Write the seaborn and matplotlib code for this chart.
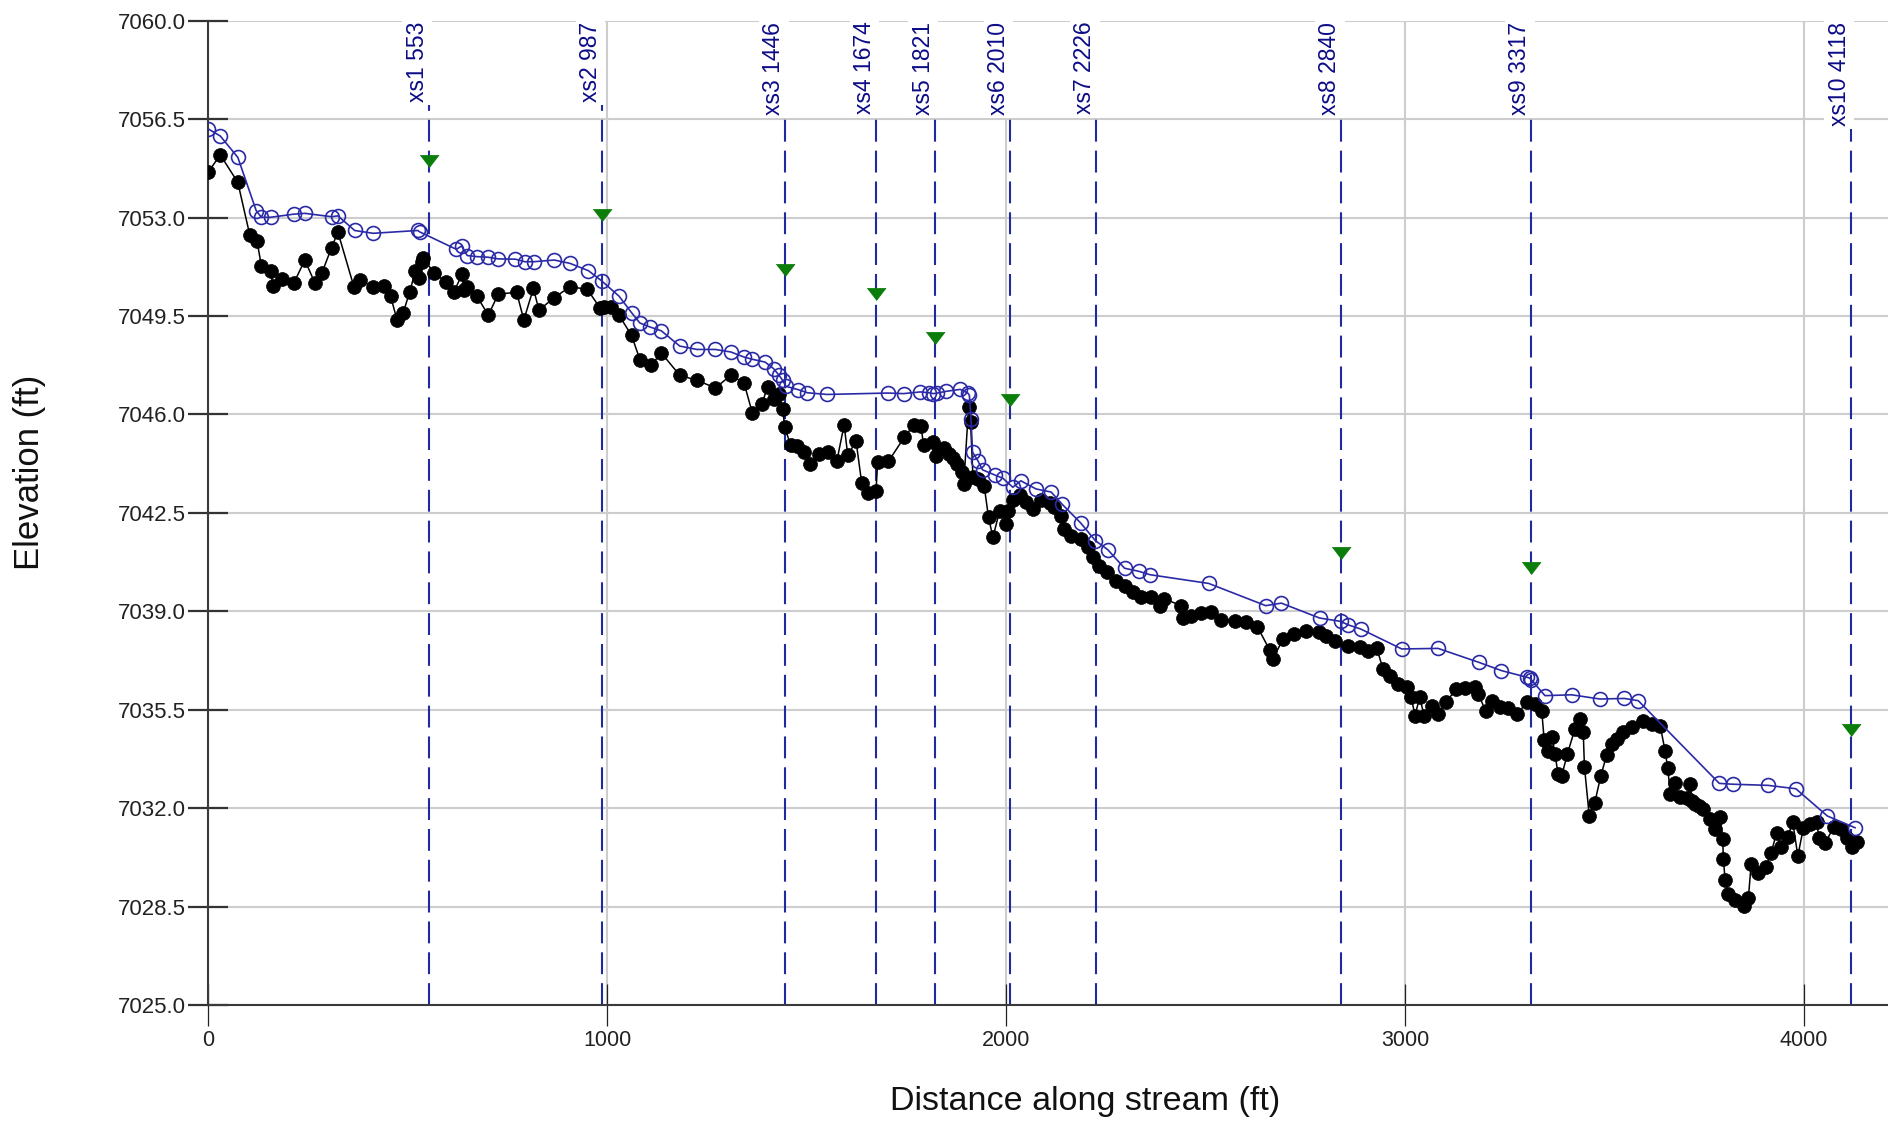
import matplotlib
matplotlib.use("Agg")
import matplotlib.pyplot as plt
import matplotlib.transforms as mtransforms
import seaborn as sns
import pandas as pd

# Channel bed profile (thalweg survey points)
bed_dist = [0, 30, 74, 104, 122, 133, 156, 162, 185, 214, 242, 267, 285, 309, 325,
            365, 380, 413, 440, 457, 473, 488, 505, 519, 528, 536, 539, 565, 595, 616,
            636, 641, 649, 673, 702, 727, 773, 791, 815, 829, 867, 907, 950, 982, 992,
            1009, 1030, 1061, 1082, 1109, 1136, 1182, 1226, 1271, 1310, 1343, 1364, 1388,
            1402, 1419, 1431, 1440, 1445, 1460, 1477, 1494, 1509, 1532, 1553, 1576, 1594,
            1603, 1624, 1638, 1653, 1674, 1678, 1705, 1745, 1768, 1787, 1793, 1816, 1824,
            1833, 1845, 1858, 1867, 1877, 1889, 1894, 1906, 1911, 1917, 1929, 1945, 1956,
            1967, 1984, 2000, 2004, 2018, 2034, 2050, 2067, 2088, 2109, 2121, 2138, 2146,
            2163, 2188, 2205, 2218, 2234, 2254, 2276, 2297, 2318, 2339, 2364, 2385, 2397,
            2439, 2443, 2464, 2488, 2513, 2540, 2573, 2602, 2630, 2661, 2669, 2694, 2722,
            2751, 2785, 2803, 2824, 2856, 2887, 2908, 2929, 2945, 2962, 2983, 3004, 3016,
            3025, 3037, 3048, 3067, 3083, 3102, 3129, 3150, 3175, 3184, 3202, 3217, 3238,
            3259, 3282, 3305, 3326, 3343, 3349, 3359, 3369, 3376, 3384, 3393, 3407, 3426,
            3440, 3447, 3450, 3462, 3476, 3491, 3506, 3518, 3531, 3547, 3568, 3598, 3619,
            3640, 3652, 3659, 3665, 3677, 3690, 3707, 3715, 3719, 3727, 3736, 3748, 3765,
            3778, 3790, 3797, 3798, 3803, 3811, 3828, 3849, 3861, 3868, 3885, 3905, 3918,
            3932, 3943, 3960, 3972, 3985, 3999, 4016, 4033, 4037, 4054, 4075, 4094, 4108,
            4121, 4133]
bed_elev = [7054.62, 7055.23, 7054.25, 7052.38, 7052.17, 7051.29, 7051.10, 7050.58,
            7050.80, 7050.66, 7051.49, 7050.68, 7051.04, 7051.93, 7052.48, 7050.54,
            7050.78, 7050.54, 7050.58, 7050.21, 7049.36, 7049.59, 7050.36, 7051.10,
            7050.84, 7051.43, 7051.57, 7051.04, 7050.72, 7050.36, 7050.98, 7050.42,
            7050.54, 7050.21, 7049.53, 7050.28, 7050.34, 7049.36, 7050.48, 7049.71,
            7050.15, 7050.54, 7050.45, 7049.79, 7049.82, 7049.82, 7049.52, 7048.81,
            7047.95, 7047.74, 7048.18, 7047.39, 7047.21, 7046.94, 7047.39, 7047.12,
            7046.05, 7046.38, 7046.97, 7046.56, 7046.74, 7046.20, 7045.55, 7044.90,
            7044.87, 7044.66, 7044.24, 7044.60, 7044.68, 7044.36, 7045.63, 7044.56,
            7045.04, 7043.57, 7043.20, 7043.29, 7044.30, 7044.33, 7045.19, 7045.61,
            7045.58, 7044.90, 7045.01, 7044.52, 7044.72, 7044.80, 7044.60, 7044.45,
            7044.25, 7043.94, 7043.53, 7046.26, 7045.73, 7043.77, 7043.71, 7043.47,
            7042.34, 7041.63, 7042.58, 7042.11, 7042.58, 7042.94, 7043.12, 7042.88,
            7042.64, 7042.94, 7042.84, 7042.72, 7042.40, 7041.93, 7041.69, 7041.57,
            7041.28, 7040.92, 7040.62, 7040.39, 7040.09, 7039.91, 7039.67, 7039.50,
            7039.50, 7039.20, 7039.44, 7039.20, 7038.76, 7038.84, 7038.93, 7038.96,
            7038.69, 7038.67, 7038.61, 7038.45, 7037.62, 7037.30, 7038.01, 7038.19,
            7038.31, 7038.27, 7038.13, 7037.93, 7037.78, 7037.72, 7037.60, 7037.70,
            7036.95, 7036.71, 7036.41, 7036.29, 7035.94, 7035.29, 7035.94, 7035.29,
            7035.64, 7035.35, 7035.76, 7036.24, 7036.27, 7036.32, 7036.06, 7035.46,
            7035.80, 7035.61, 7035.55, 7035.35, 7035.76, 7035.70, 7035.46, 7034.42,
            7034.04, 7034.54, 7033.92, 7033.21, 7033.15, 7033.92, 7034.81, 7035.17,
            7034.69, 7033.47, 7031.73, 7032.20, 7033.15, 7033.90, 7034.28, 7034.46,
            7034.69, 7034.90, 7035.11, 7034.99, 7034.93, 7034.04, 7033.41, 7032.52,
            7032.91, 7032.38, 7032.37, 7032.85, 7032.26, 7032.14, 7032.08, 7031.96,
            7031.60, 7031.25, 7031.68, 7030.89, 7030.18, 7029.43, 7028.93, 7028.72,
            7028.52, 7028.81, 7030.02, 7029.70, 7029.90, 7030.41, 7031.13, 7030.62,
            7030.97, 7031.52, 7030.30, 7031.31, 7031.42, 7031.52, 7030.95, 7030.77,
            7031.33, 7031.25, 7030.95, 7030.62, 7030.81]

# Water surface profile
ws_dist = [0, 30, 74, 120, 133, 156, 214, 242, 309, 325, 367, 413, 525, 530, 622, 635,
           649, 674, 701, 727, 770, 793, 816, 867, 907, 953, 986, 1030, 1061, 1082, 1107,
           1136, 1182, 1225, 1271, 1310, 1343, 1364, 1396, 1417, 1431, 1440, 1448, 1479,
           1502, 1551, 1703, 1743, 1785, 1808, 1818, 1828, 1849, 1885, 1904, 1908, 1912,
           1916, 1929, 1941, 1971, 1992, 2017, 2037, 2075, 2113, 2141, 2187, 2224, 2255,
           2297, 2333, 2361, 2508, 2651, 2690, 2786, 2839, 2857, 2889, 2992, 3083, 3186,
           3242, 3307, 3313, 3317, 3351, 3418, 3489, 3550, 3585, 3788, 3822, 3910, 3980,
           4059, 4129]
ws_elev = [7056.15, 7055.90, 7055.14, 7053.25, 7053.01, 7053.01, 7053.12, 7053.15,
           7053.03, 7053.06, 7052.54, 7052.44, 7052.54, 7052.49, 7051.87, 7051.99,
           7051.65, 7051.61, 7051.59, 7051.53, 7051.52, 7051.43, 7051.43, 7051.49,
           7051.37, 7051.11, 7050.75, 7050.20, 7049.62, 7049.25, 7049.11, 7048.97,
           7048.43, 7048.31, 7048.31, 7048.22, 7048.04, 7047.96, 7047.86, 7047.63,
           7047.39, 7047.21, 7047.00, 7046.88, 7046.77, 7046.71, 7046.76, 7046.74,
           7046.80, 7046.77, 7046.74, 7046.76, 7046.82, 7046.89, 7046.76, 7046.68,
           7045.85, 7044.66, 7044.36, 7044.03, 7043.85, 7043.73, 7043.41, 7043.64,
           7043.35, 7043.24, 7042.80, 7042.14, 7041.51, 7041.19, 7040.53, 7040.42,
           7040.30, 7039.99, 7039.20, 7039.29, 7038.76, 7038.64, 7038.52, 7038.37,
           7037.66, 7037.68, 7037.18, 7036.89, 7036.65, 7036.62, 7036.56, 7036.00,
           7036.03, 7035.88, 7035.90, 7035.82, 7032.88, 7032.85, 7032.81, 7032.69,
           7031.72, 7031.30]

# Cross sections: name, station and water level at the section
xs_names = ["xs1", "xs2", "xs3", "xs4", "xs5", "xs6", "xs7", "xs8", "xs9", "xs10"]
xs_station = [553, 987, 1446, 1674, 1821, 2010, 2226, 2840, 3317, 4118]
wl_station = [553, 987, 1446, 1674, 1821, 2010, 2840, 3317, 4118]
wl_elev = [7055.0, 7053.1, 7051.13, 7050.27, 7048.73, 7046.5, 7041.07, 7040.54, 7034.78]

y_ticks = [7025.0 + 3.5 * i for i in range(11)]
x_ticks = [0, 1000, 2000, 3000, 4000]

sns.set_style("white")
plt.rcParams["font.family"] = ["Liberation Sans", "DejaVu Sans"]

fig = plt.figure(figsize=(18.88, 11.25), dpi=100)
ax = fig.add_axes([0.11033, 0.10667, 0.88967, 0.87493])

navy_text = "#0c0c88"
navy_dash = "#1f2a9e"
ws_blue = "#2a2aa6"
green = "#0a7d0a"

# Cross-section markers
trans = mtransforms.blended_transform_factory(ax.transData, ax.transAxes)
for name, st in zip(xs_names, xs_station):
    ax.axvline(st, color=navy_dash, lw=1.5, dashes=(10.5, 4.3), zorder=2)
    ax.text(st, 0.999, f"{name} {st}", transform=trans, rotation=90,
            ha="right", va="top", color=navy_text, fontsize=16.5, zorder=6,
            bbox=dict(boxstyle="square,pad=0.15", fc="white", ec="none"))

bed = pd.DataFrame({"dist": bed_dist, "elev": bed_elev})
ws = pd.DataFrame({"dist": ws_dist, "elev": ws_elev})
wl = pd.DataFrame({"dist": wl_station, "elev": wl_elev})

sns.lineplot(data=bed, x="dist", y="elev", ax=ax, sort=False, estimator=None,
             color="black", lw=1.1, marker="o", markersize=10,
             markerfacecolor="black", markeredgecolor="black",
             markeredgewidth=0.5, zorder=4)
sns.lineplot(data=ws, x="dist", y="elev", ax=ax, sort=False, estimator=None,
             color=ws_blue, lw=1.2, marker="o", markersize=10,
             markerfacecolor="none", markeredgecolor=ws_blue,
             markeredgewidth=1.2, zorder=5)

tri = [(-1.0, 0.65), (1.0, 0.65), (0.0, -0.65)]
sns.scatterplot(data=wl, x="dist", y="elev", ax=ax, marker=tri, s=185,
                color=green, edgecolor=green, linewidth=0.5, zorder=7)

ax.set_xlim(0, 4211)
ax.set_ylim(7025, 7060)
ax.set_yticks(y_ticks)
ax.set_yticklabels([f"{v:.1f}" for v in y_ticks])
ax.set_xticks(x_ticks)
ax.set_xticklabels([str(v) for v in x_ticks])

ax.set_axisbelow(True)
ax.grid(True, color="#cdcdcd", lw=1.5)

for side in ("top", "right"):
    ax.spines[side].set_visible(False)
for side in ("left", "bottom"):
    ax.spines[side].set_color("#3a3a3a")
    ax.spines[side].set_linewidth(1.5)

ax.tick_params(axis="y", left=True, direction="inout", length=29, width=1.6,
               color="#333333", pad=1.5, labelsize=16, labelcolor="#222222")
ax.tick_params(axis="x", bottom=True, direction="inout", length=30, width=0.9,
               color="#222222", pad=3, labelsize=15.5, labelcolor="#222222")

ax.set_xlabel("Distance along stream (ft)", fontsize=24.5, color="#111111")
ax.set_ylabel("Elevation (ft)", fontsize=25, color="#111111")
ax.xaxis.set_label_coords(0.522, -0.0823)
ax.yaxis.set_label_coords(-0.0966, 0.5415)

fig.savefig("out.png", dpi=100, facecolor="white")
